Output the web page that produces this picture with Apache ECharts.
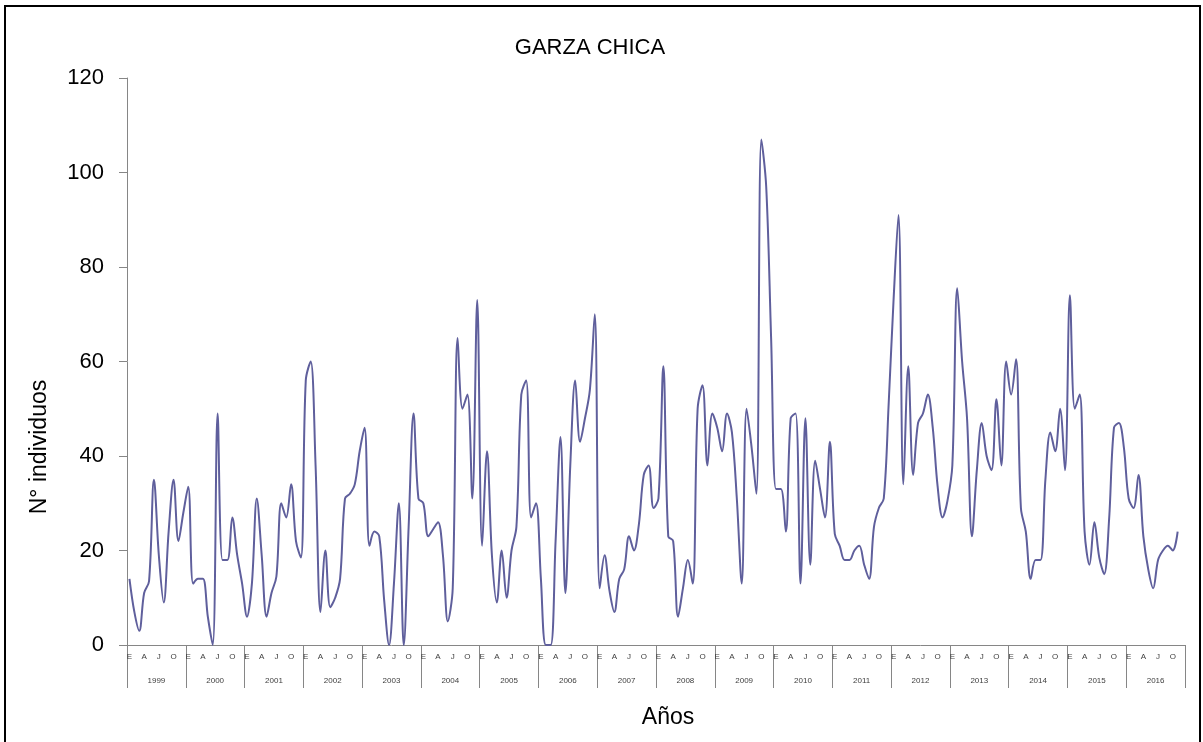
<!DOCTYPE html>
<html>
<head>
<meta charset="utf-8">
<script src="https://cdn.jsdelivr.net/npm/echarts@6/dist/echarts.min.js"></script>
<style>
  html, body { margin: 0; padding: 0; background: #fff; }
  #chart { width: 1203px; height: 742px; }
</style>
</head>
<body>
<div id="chart"></div>
<script>
// ---- data ----
const years = ['1999','2000','2001','2002','2003','2004','2005','2006','2007','2008','2009','2010','2011','2012','2013','2014','2015','2016'];
const monthTicks = ['E','','','A','','','J','','','O','',''];

const v1999 = [14, 7, 3, 11, 13.5, 35, 19, 9, 24, 35, 22, 28];
const v2000 = [33.5, 13, 14, 14, 6, 0, 49, 18, 18, 27, 19, 13];
const v2001 = [6, 13, 31, 19, 6, 11, 14.5, 30, 27, 34, 22, 18.5];
const v2002 = [56, 60, 38, 7, 20, 8, 10, 14, 31, 32, 34, 41];
const v2003 = [46, 21, 24, 23, 9.5, 0, 13, 30, 0, 25, 49, 31];
const v2004 = [30, 23, 24.5, 26, 19, 5, 12, 65, 50, 53, 31, 73];
const v2005 = [21, 41, 19, 9, 20, 10, 20, 25, 53, 56, 27, 30];
const v2006 = [14, 0, 0, 22, 44, 11, 38, 56, 43, 48, 54, 70];
const v2007 = [12, 19, 11.5, 7, 14, 16, 23, 20, 25.5, 36, 38, 29];
const v2008 = [31, 59, 23, 22, 6, 12, 18, 13, 50, 55, 38, 49];
const v2009 = [46, 41, 49, 45, 31, 13, 50, 42, 32, 107, 97, 65];
const v2010 = [33, 33, 24, 48, 49, 13, 48, 17, 39, 33, 27, 43];
const v2011 = [23.5, 21, 18, 18, 20, 21, 17, 14, 25, 29, 31, 51];
const v2012 = [73, 91, 34, 59, 36, 47, 49, 53, 46, 33.5, 27, 30.5];
const v2013 = [38, 75.5, 60, 48, 23, 37, 47, 40, 37, 52, 38, 60];
const v2014 = [53, 60.5, 29, 24, 14, 18, 18, 35, 45, 41, 50, 37];
const v2015 = [74, 50, 53, 24, 17, 26, 18.5, 15, 26.5, 46, 47, 42];
const v2016 = [31, 29, 36, 23, 16, 12, 18, 20, 21, 20, 24];

const yTicks = [0, 20, 40, 60, 80, 100, 120];

// ---- build ----
const values = [].concat(v1999, v2000, v2001, v2002, v2003, v2004, v2005, v2006, v2007,
  v2008, v2009, v2010, v2011, v2012, v2013, v2014, v2015, v2016);
const categories = [];
years.forEach(y => monthTicks.forEach((m, i) => categories.push(y + '-' + (i + 1))));
const monthLabelOf = (val, idx) => monthTicks[idx % 12];

const chart = echarts.init(document.getElementById('chart'), null, { renderer: 'canvas' });
const FONT = 'Liberation Sans, Arial, sans-serif';
const AXIS_GRAY = '#868686';

chart.setOption({
  backgroundColor: '#ffffff',
  animation: false,
  title: {
    text: 'GARZA CHICA',
    left: 585,
    top: 32,
    textAlign: 'center',
    textStyle: { fontFamily: FONT, fontSize: 22, fontWeight: 'normal', color: '#000' }
  },
  grid: { left: 127, right: 18, top: 78, bottom: 97, containLabel: false },
  xAxis: [
    {
      type: 'category',
      data: categories,
      position: 'bottom',
      boundaryGap: true,
      axisLine: { show: true, lineStyle: { color: AXIS_GRAY, width: 1 } },
      axisTick: { show: false },
      axisLabel: {
        interval: 0,
        formatter: monthLabelOf,
        margin: 8,
        fontFamily: FONT,
        fontSize: 8,
        color: '#404040'
      },
      splitLine: { show: false }
    },
    {
      type: 'category',
      data: years,
      position: 'bottom',
      boundaryGap: true,
      axisLine: { show: false },
      axisTick: { show: true, length: 43, lineStyle: { color: AXIS_GRAY, width: 1 } },
      axisLabel: {
        interval: 0,
        margin: 32,
        fontFamily: FONT,
        fontSize: 8,
        color: '#404040'
      },
      splitLine: { show: false }
    }
  ],
  yAxis: {
    type: 'value',
    min: yTicks[0],
    max: yTicks[yTicks.length - 1],
    interval: 20,
    axisLine: { show: true, lineStyle: { color: AXIS_GRAY, width: 1 } },
    axisTick: { show: true, length: 8, lineStyle: { color: AXIS_GRAY } },
    axisLabel: { margin: 23, fontFamily: FONT, fontSize: 22, color: '#000' },
    splitLine: { show: false }
  },
  series: [{
    type: 'line',
    name: 'GARZA CHICA',
    xAxisIndex: 0,
    data: values,
    smooth: 0.35,
    symbol: 'none',
    lineStyle: { color: '#5f5f9c', width: 2 }
  }],
  graphic: [
    {
      type: 'rect',
      shape: { x: 5, y: 6, width: 1195, height: 800 },
      style: { fill: 'none', stroke: '#000', lineWidth: 2 },
      silent: true
    },
    {
      type: 'text',
      x: 40, y: 447,
      rotation: Math.PI / 2,
      style: { text: 'N° individuos', font: '23px ' + FONT, fill: '#000', textAlign: 'center', textVerticalAlign: 'middle' }
    },
    {
      type: 'text',
      x: 668, y: 718,
      style: { text: 'Años', font: '23px ' + FONT, fill: '#000', textAlign: 'center', textVerticalAlign: 'middle' }
    }
  ]
});
</script>
</body>
</html>
